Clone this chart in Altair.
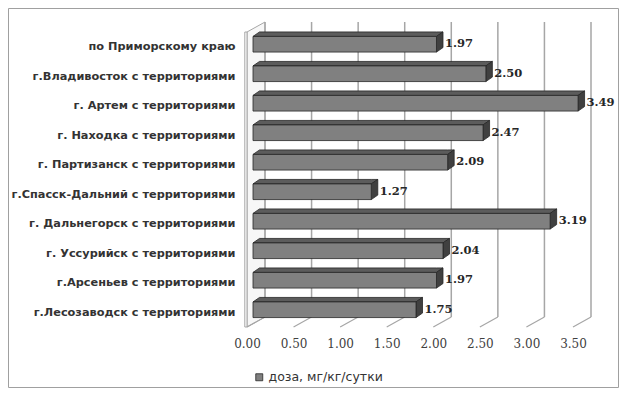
import altair as alt
import pandas as pd

categories = [
    "по Приморскому краю",
    "г.Владивосток с территориями",
    "г. Артем с территориями",
    "г. Находка с территориями",
    "г. Партизанск с территориями",
    "г.Спасск-Дальний с территориями",
    "г. Дальнегорск с территориями",
    "г. Уссурийск с территориями",
    "г.Арсеньев с территориями",
    "г.Лесозаводск с территориями",
]
values = [1.97, 2.50, 3.49, 2.47, 2.09, 1.27, 3.19, 2.04, 1.97, 1.75]
tick_values = [0.0, 0.5, 1.0, 1.5, 2.0, 2.5, 3.0, 3.5]
series_name = "доза, мг/кг/сутки"

# geometry (pixels -> data units)
W, H = 326, 295
PAD_L, PAD_T = 239, 24
TOTAL_W, TOTAL_H = 612, 381
XMAX = 3.5
N = len(categories)
ux = W / XMAX
uy = H / N
BACK_DX, BACK_DY = 18 / ux, 10 / uy
BAR_DX0, BAR_DY0 = 6 / ux, 2.5 / uy
DEP_DX, DEP_DY = 6.5 / ux, 4.5 / uy
HALF = 0.265
Y_TOP, Y_BOT = -0.5, N - 0.5

xscale = alt.Scale(domain=[0, XMAX], nice=False, zero=False)
yscale = alt.Scale(domain=[Y_TOP, Y_BOT], nice=False, zero=False, reverse=True)

label_expr = "[" + ",".join("'" + c + "'" for c in categories) + "][datum.value]"
xaxis = alt.Axis(values=tick_values, format=".2f", domain=False, ticks=False, grid=False,
                 labelPadding=11, labelFont="DejaVu Serif", labelFontSize=12,
                 labelColor="#404040", labelFlush=False, labelOverlap=False, title=None)
yaxis = alt.Axis(values=list(range(N)), labelExpr=label_expr, domain=False, ticks=False,
                 grid=False, labelPadding=12, labelFont="DejaVu Sans",
                 labelFontWeight="bold", labelFontSize=11.3, labelColor="#333333",
                 labelLimit=400, labelOverlap=False, title=None)


def X(f):
    return alt.X(f, type="quantitative", scale=xscale, axis=xaxis)


def Y(f):
    return alt.Y(f, type="quantitative", scale=yscale, axis=yaxis, stack=None)


# data frames
front = pd.DataFrame({
    "cat": categories,
    "i": list(range(N)),
    "v": values,
})
front["x0"] = BAR_DX0
front["x1"] = front["v"] + BAR_DX0
front["y0"] = front["i"] - BAR_DY0 - HALF
front["y1"] = front["i"] - BAR_DY0 + HALF
front["tx"] = front["v"] + BAR_DX0 + DEP_DX
front["ty"] = front["i"] - BAR_DY0
front["series"] = series_name

top_rows, side_rows = [], []
for i, v in enumerate(values):
    ft = i - BAR_DY0 - HALF
    fb = i - BAR_DY0 + HALF
    top_rows += [
        {"i": i, "ax": BAR_DX0, "ay": ft, "ay2": ft},
        {"i": i, "ax": BAR_DX0 + DEP_DX, "ay": ft - DEP_DY, "ay2": ft},
        {"i": i, "ax": v + BAR_DX0, "ay": ft - DEP_DY, "ay2": ft},
        {"i": i, "ax": v + BAR_DX0 + DEP_DX, "ay": ft - DEP_DY, "ay2": ft - DEP_DY},
    ]
    side_rows += [
        {"i": i, "ax": v + BAR_DX0, "ay": ft, "ay2": fb},
        {"i": i, "ax": v + BAR_DX0 + DEP_DX, "ay": ft - DEP_DY, "ay2": fb - DEP_DY},
    ]
top_df = pd.DataFrame(top_rows)
side_df = pd.DataFrame(side_rows)

wall_df = pd.DataFrame([
    {"ax": 0.0, "ay": Y_TOP, "ay2": Y_BOT},
    {"ax": BACK_DX, "ay": Y_TOP - BACK_DY, "ay2": Y_BOT - BACK_DY},
])
wall_front_df = pd.DataFrame([{"x0": -2.2 / ux, "x1": 0.0, "y0": Y_TOP, "y1": Y_BOT}])

grid_df = pd.DataFrame({"t": tick_values})
grid_df["gx"] = grid_df["t"] + BACK_DX
grid_df["gy"] = Y_TOP - BACK_DY
grid_df["gy2"] = Y_BOT - BACK_DY
grid_df["fx"] = grid_df["t"]
grid_df["fx2"] = grid_df["t"] + BACK_DX
grid_df["fy"] = Y_BOT
grid_df["fy2"] = Y_BOT - BACK_DY

GRID = "#a6a6a6"
EDGE = "#262626"

wall = alt.Chart(wall_df).mark_area(orient="vertical", fill="#f7f7f7", stroke=GRID,
                                    strokeWidth=1).encode(x=X("ax"), y=Y("ay"), y2="ay2")
wall_front = alt.Chart(wall_front_df).mark_rect(fill="#ffffff", stroke=GRID, strokeWidth=1).encode(
    x=X("x0"), x2="x1", y=Y("y0"), y2="y1")
grid = alt.Chart(grid_df).mark_rule(color=GRID, strokeWidth=1.5).encode(
    x=X("gx"), y=Y("gy"), y2="gy2")
floor = alt.Chart(grid_df).mark_rule(color=GRID, strokeWidth=1.2).encode(
    x=X("fx"), x2="fx2", y=Y("fy"), y2="fy2")
top_face = alt.Chart(top_df).mark_area(orient="vertical", fill="#5c5c5c", stroke=EDGE,
                                       strokeWidth=0.8).encode(
    x=X("ax"), y=Y("ay"), y2="ay2", detail="i:N")
side_face = alt.Chart(side_df).mark_area(orient="vertical", fill="#404040", stroke=EDGE,
                                         strokeWidth=0.8).encode(
    x=X("ax"), y=Y("ay"), y2="ay2", detail="i:N")
front_face = alt.Chart(front).mark_rect(stroke=EDGE, strokeWidth=0.8).encode(
    x=X("x0"), x2="x1", y=Y("y0"), y2="y1",
    color=alt.Color("series:N", scale=alt.Scale(range=["#808080"]),
                    legend=alt.Legend(orient="none", legendX=6, legendY=339, title=None,
                                      symbolType="square", symbolSize=49,
                                      symbolStrokeColor=EDGE, symbolStrokeWidth=0.8,
                                      labelFont="DejaVu Sans", labelFontSize=12.5,
                                      labelColor="#333333", padding=0, labelOffset=3)))
value_labels = alt.Chart(front).mark_text(align="left", baseline="middle", dx=2,
                                          font="DejaVu Serif", fontSize=11.5,
                                          fontWeight="bold", color="#262626").encode(
    x=X("tx"), y=Y("ty"), text=alt.Text("v:Q", format=".2f"))
border = alt.Chart(pd.DataFrame({"k": [0]})).mark_rect(filled=False, stroke="#a0a0a0",
                                                      strokeWidth=1).encode(
    x=alt.value(-PAD_L + 0.5), x2=alt.value(TOTAL_W - PAD_L - 1.5),
    y=alt.value(-PAD_T + 0.5), y2=alt.value(TOTAL_H - PAD_T - 1.5))

chart = alt.layer(border, wall, wall_front, grid, floor, top_face, side_face, front_face,
                  value_labels).properties(
    width=W, height=H,
    padding={"left": PAD_L, "top": PAD_T, "right": TOTAL_W - PAD_L - W,
             "bottom": TOTAL_H - PAD_T - H},
    autosize=alt.AutoSizeParams(type="none"),
    background="white",
).configure_view(stroke=None)

chart.save("out.html", embed_options={"renderer": "svg", "actions": False})
